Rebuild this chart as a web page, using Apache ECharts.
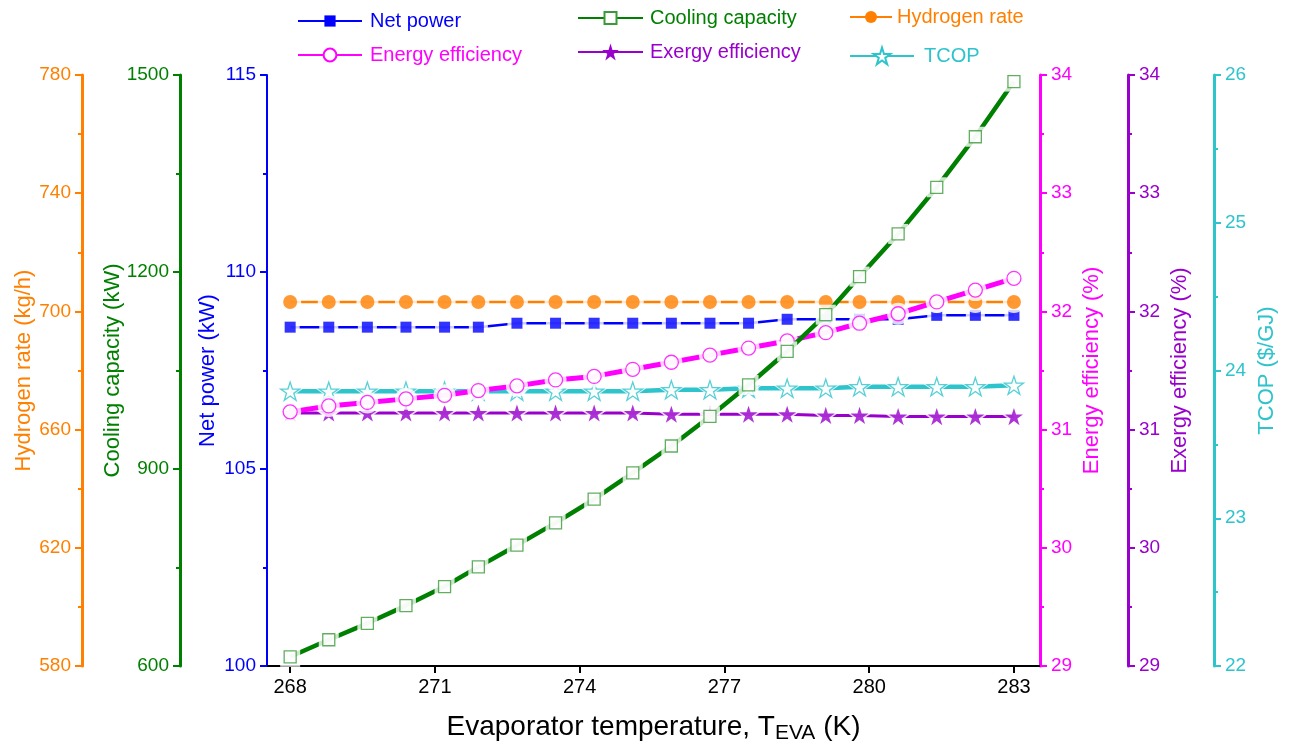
<!DOCTYPE html>
<html>
<head>
<meta charset="utf-8">
<title>Evaporator temperature study</title>
<script src="https://cdn.jsdelivr.net/npm/echarts@6.0.0/dist/echarts.min.js"></script>
<style>
  html, body { margin: 0; padding: 0; background: #ffffff; }
  #chart { width: 1295px; height: 745px; }
</style>
</head>
<body>
<div id="chart"></div>
<script>
// Evaporator temperature, K
const temperatures = [268, 268.8, 269.6, 270.4, 271.2, 271.9, 272.7, 273.5, 274.3, 275.1,
                      275.9, 276.7, 277.5, 278.3, 279.1, 279.8, 280.6, 281.4, 282.2, 283];
// Net power, kW
const netPower = [108.6, 108.6, 108.6, 108.6, 108.6, 108.6, 108.7, 108.7, 108.7, 108.7,
                  108.7, 108.7, 108.7, 108.8, 108.8, 108.8, 108.8, 108.9, 108.9, 108.9];
// Cooling capacity, kW
const coolingCapacity = [614, 640, 665, 692, 721, 751, 784, 818, 854, 894,
                         935, 980, 1028, 1079, 1135, 1193, 1258, 1329, 1406, 1490];
// Hydrogen production rate, kg/h
const hydrogenRate = [703.2, 703.2, 703.2, 703.2, 703.2, 703.2, 703.2, 703.2, 703.2, 703.2,
                      703.2, 703.2, 703.2, 703.2, 703.2, 703.2, 703.2, 703.2, 703.2, 703.2];
// Energy efficiency, %
const energyEfficiency = [31.15, 31.20, 31.23, 31.26, 31.29, 31.33, 31.37, 31.42, 31.45, 31.51,
                          31.57, 31.63, 31.69, 31.75, 31.82, 31.90, 31.98, 32.08, 32.18, 32.28];
// Exergy efficiency, %
const exergyEfficiency = [31.14, 31.14, 31.14, 31.14, 31.14, 31.14, 31.14, 31.14, 31.14, 31.14,
                          31.13, 31.13, 31.13, 31.13, 31.12, 31.12, 31.11, 31.11, 31.11, 31.11];
// Total cost of product, $/GJ
const tcop = [23.86, 23.86, 23.86, 23.86, 23.86, 23.86, 23.86, 23.86, 23.86, 23.86,
              23.87, 23.87, 23.88, 23.88, 23.88, 23.89, 23.89, 23.89, 23.89, 23.90];
// Temperature tick labels
const xTicks = [268, 271, 274, 277, 280, 283];

const FONT = "'Liberation Sans', Arial, Helvetica, sans-serif";
const C = {
  orange: '#FF8000',
  green: '#008000',
  blue: '#0000FF',
  magenta: '#FF00FF',
  purple: '#9900CC',
  cyan: '#2EC4CC'
};

// five-pointed star outline
const STAR = 'path://M50,0L61.23,34.55L97.55,34.55L68.16,55.9L79.39,90.45L50,69.1L20.61,90.45L31.84,55.9L2.45,34.55L38.77,34.55Z';

function plain(v) { return String(v); }

function yAxisDef(o) {
  return {
    type: 'value',
    position: o.position,
    offset: o.offset,
    min: o.min,
    max: o.max,
    interval: o.interval,
    name: o.name,
    nameLocation: 'middle',
    nameGap: o.nameGap,
    nameRotate: 90,
    nameMoveOverlap: false,
    nameTextStyle: { color: o.color, fontSize: 22, fontFamily: FONT },
    axisLine: { show: true, onZero: false, lineStyle: { color: o.color, width: o.lineWidth || 2.5 } },
    axisTick: { show: true, inside: false, length: 7, lineStyle: { color: o.color, width: 2 } },
    minorTick: { show: true, splitNumber: 2, length: 4, lineStyle: { color: o.color, width: 2 } },
    axisLabel: { color: o.color, fontSize: 19, margin: 11, fontFamily: FONT, formatter: plain },
    splitLine: { show: false },
    minorSplitLine: { show: false }
  };
}

const yAxes = [
  yAxisDef({ position: 'left', offset: 0, min: 100, max: 115, interval: 5,
             name: 'Net power (kW)', nameGap: 48, color: C.blue, lineWidth: 2 }),
  yAxisDef({ position: 'left', offset: 87, min: 600, max: 1500, interval: 300,
             name: 'Cooling capacity (kW)', nameGap: 56, color: C.green, lineWidth: 3 }),
  yAxisDef({ position: 'left', offset: 185, min: 580, max: 780, interval: 40,
             name: 'Hydrogen rate (kg/h)', nameGap: 47, color: C.orange, lineWidth: 3 }),
  yAxisDef({ position: 'right', offset: 0, min: 29, max: 34, interval: 1,
             name: 'Energy efficiency (%)', nameGap: 41, color: C.magenta, lineWidth: 3 }),
  yAxisDef({ position: 'right', offset: 88, min: 29, max: 34, interval: 1,
             name: 'Exergy efficiency (%)', nameGap: 41, color: C.purple, lineWidth: 3 }),
  yAxisDef({ position: 'right', offset: 174, min: 22, max: 26, interval: 1,
             name: 'TCOP ($/GJ)', nameGap: 42, color: C.cyan, lineWidth: 3 })
];

// one entry per plotted quantity, listed from bottom layer to top layer
const metrics = [
  { name: 'Net power', values: netPower, axis: 0, color: C.blue, width: 2.5,
    symbol: 'rect', size: 11, hollow: false },
  { name: 'Hydrogen rate', values: hydrogenRate, axis: 2, color: C.orange, width: 2.5,
    symbol: 'circle', size: 14, hollow: false },
  { name: 'Exergy efficiency', values: exergyEfficiency, axis: 4, color: C.purple, width: 3,
    symbol: STAR, size: 18, hollow: false },
  { name: 'TCOP', values: tcop, axis: 5, color: C.cyan, width: 4.5,
    symbol: STAR, size: 19, hollow: true },
  { name: 'Energy efficiency', values: energyEfficiency, axis: 3, color: C.magenta, width: 5,
    symbol: 'circle', size: 14, hollow: true },
  { name: 'Cooling capacity', values: coolingCapacity, axis: 1, color: C.green, width: 4.5,
    symbol: 'rect', size: 12, hollow: true, border: '#3A9A3A' }
];

function markerStyle(m) {
  return m.hollow
    ? { color: '#ffffff', borderColor: m.border || m.color, borderWidth: 1.3 }
    : { color: m.color, borderWidth: 0 };
}

const series = [];
metrics.forEach(function (m, k) {
  const pts = temperatures.map(function (t, i) { return [t, m.values[i]]; });
  const base = 10 * (k + 1);
  // connecting line
  series.push({
    type: 'line', name: m.name, yAxisIndex: m.axis, data: pts, z: base,
    showSymbol: false, symbol: m.symbol, symbolSize: m.size, symbolKeepAspect: true,
    lineStyle: { color: m.color, width: m.width },
    itemStyle: markerStyle(m),
    silent: true, animation: false
  });
  // white clearance around each marker
  series.push({
    type: 'scatter', yAxisIndex: m.axis, data: pts, z: base + 1,
    symbol: m.symbol, symbolSize: m.size + 8, symbolKeepAspect: true,
    itemStyle: { color: '#ffffff' }, silent: true, animation: false
  });
  // markers
  series.push({
    type: 'scatter', yAxisIndex: m.axis, data: pts, z: base + 2,
    symbol: m.symbol, symbolSize: m.size, symbolKeepAspect: true,
    itemStyle: markerStyle(m), silent: true, animation: false
  });
});

function legendDef(name, color, left, top, itemWidth, itemHeight, textPad) {
  return {
    show: true, orient: 'vertical', left: left, top: top, padding: 0,
    itemWidth: itemWidth, itemHeight: itemHeight, selectedMode: false,
    data: [{ name: name }],
    textStyle: { color: color, fontSize: 20, fontFamily: FONT, lineHeight: 22,
                 padding: [0, 0, 0, textPad] }
  };
}

const option = {
  backgroundColor: '#ffffff',
  animation: false,
  grid: { left: 267, right: 255, top: 75, bottom: 79, containLabel: false,
          outerBoundsMode: 'none' },
  legend: [
    legendDef('Net power', C.blue, 297, 10, 64, 14, 3),
    legendDef('Cooling capacity', C.green, 577, 7, 65, 15, 2),
    legendDef('Hydrogen rate', C.orange, 849, 6, 42, 15, 0),
    legendDef('Energy efficiency', C.magenta, 297, 44, 64, 16, 3),
    legendDef('Exergy efficiency', C.purple, 577, 41, 65, 21, 2),
    legendDef('TCOP', C.cyan, 849, 45, 64, 21, 5)
  ],
  xAxis: {
    type: 'value',
    min: 267.52,
    max: 283.54,
    name: '{m|Evaporator temperature, T}{s|EVA}{m| (K)}',
    nameLocation: 'middle',
    nameGap: 44,
    nameMoveOverlap: false,
    nameTextStyle: {
      color: '#000000', fontFamily: FONT,
      rich: {
        m: { fontSize: 28, lineHeight: 34, verticalAlign: 'middle', color: '#000000', fontFamily: FONT },
        s: { fontSize: 21, lineHeight: 21, verticalAlign: 'bottom', color: '#000000', fontFamily: FONT }
      }
    },
    axisLine: { show: true, onZero: false, lineStyle: { color: '#000000', width: 2 } },
    axisTick: { show: true, inside: false, length: 7, lineStyle: { color: '#000000', width: 2 },
                customValues: xTicks },
    axisLabel: { color: '#000000', fontSize: 20, margin: 11, fontFamily: FONT,
                 customValues: xTicks, formatter: plain },
    splitLine: { show: false },
    minorTick: { show: false }
  },
  yAxis: yAxes,
  series: series
};

const chart = echarts.init(document.getElementById('chart'), null, { renderer: 'canvas' });
chart.setOption(option);
</script>
</body>
</html>
